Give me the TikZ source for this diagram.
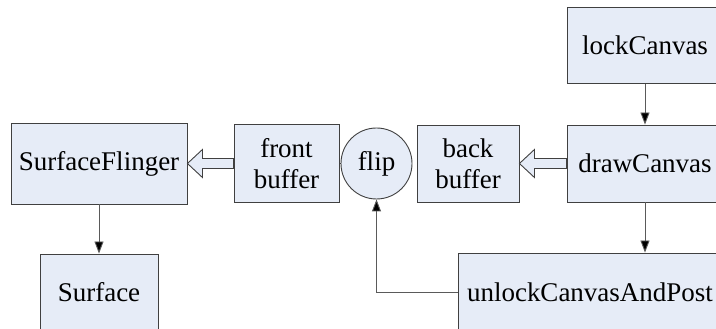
\documentclass[tikz,border=0pt]{standalone}
\usepackage{fontspec}
\setmainfont{Liberation Serif}
\usetikzlibrary{arrows.meta}
\definecolor{boxfill}{RGB}{230,236,247}
\definecolor{boxline}{RGB}{64,64,64}
\definecolor{wire}{RGB}{90,90,90}
\tikzset{
    box/.style={draw=boxline, fill=boxfill, line width=0.9pt, align=center,
        font=\fontsize{27}{31}\selectfont, inner sep=0pt},
    arr/.style={draw=wire, line width=0.9pt, -{Triangle[length=12pt, width=9pt, fill=black]}},
    hollow/.style={draw=boxline, fill=boxfill, line width=0.9pt, line join=miter}
}
\begin{document}
\begin{tikzpicture}[x=1pt, y=1pt]
    \path[use as bounding box] (0,0) rectangle (716,329);
    \clip (0,0) rectangle (716,329);
    \node[box, minimum width=156pt, minimum height=76pt] (lock) at (645,283.5) {lockCanvas};
    \node[box, minimum width=156pt, minimum height=77pt] (draw) at (645,165.5) {drawCanvas};
    \node[box, minimum width=264pt, minimum height=78pt] (unlock) at (590,37) {unlockCanvasAndPost};
    \node[box, minimum width=102pt, minimum height=77pt] (bb) at (468,165.5) {back\\buffer};
    \node[box, circle, minimum size=71pt] (flip) at (376.5,165.5) {flip};
    \node[box, minimum width=105pt, minimum height=78pt] (fb) at (286.5,165.5) {front\\buffer};
    \node[box, minimum width=176pt, minimum height=81pt] (sf) at (99,165.5) {SurfaceFlinger};
    \node[box, minimum width=118pt, minimum height=77pt] (surf) at (99,36.5) {Surface};
    \path[arr] (lock.south) -- (draw.north);
    \path[arr] (draw.south) -- (draw.south |- unlock.north);
    \path[arr] (unlock.west) -| (flip.south);
    \path[arr] (sf.south) -- (surf.north);
    \draw[boxline, line width=0.9pt] (fb.east) -- (flip.west);
    \draw[hollow] (sf.east) -- ([xshift=15pt,yshift=14pt]sf.east) -- ([xshift=15pt,yshift=5pt]sf.east)
        -- ([yshift=5pt]fb.west) -- ([yshift=-5pt]fb.west) -- ([xshift=15pt,yshift=-5pt]sf.east)
        -- ([xshift=15pt,yshift=-14pt]sf.east) -- cycle;
    \draw[hollow] (bb.east) -- ([xshift=15pt,yshift=14pt]bb.east) -- ([xshift=15pt,yshift=5pt]bb.east)
        -- ([yshift=5pt]draw.west) -- ([yshift=-5pt]draw.west) -- ([xshift=15pt,yshift=-5pt]bb.east)
        -- ([xshift=15pt,yshift=-14pt]bb.east) -- cycle;
\end{tikzpicture}
\end{document}
